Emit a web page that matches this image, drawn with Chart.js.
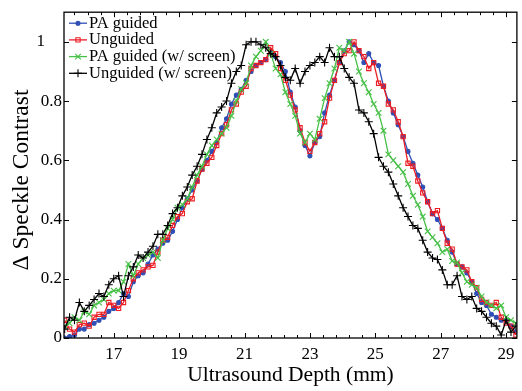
<!DOCTYPE html>
<html><head><meta charset="utf-8">
<script src="https://cdn.jsdelivr.net/npm/chart.js@4/dist/chart.umd.min.js"></script>
<style>html,body{margin:0;padding:0;background:#fff;}canvas{display:block;}</style>
</head><body>
<canvas id="c" width="522" height="391"></canvas>
<script>
// ---- data ----
const depth = [15.50,15.65,15.80,15.95,16.10,16.25,16.40,16.55,16.70,16.85,
  17.00,17.15,17.30,17.45,17.60,17.75,17.90,18.05,18.20,18.35,
  18.50,18.65,18.80,18.95,19.10,19.25,19.40,19.55,19.70,19.85,
  20.00,20.15,20.30,20.45,20.60,20.75,20.90,21.05,21.20,21.35,
  21.50,21.65,21.80,21.95,22.10,22.25,22.40,22.55,22.70,22.85,
  23.00,23.15,23.30,23.45,23.60,23.75,23.90,24.05,24.20,24.35,
  24.50,24.65,24.80,24.95,25.10,25.25,25.40,25.55,25.70,25.85,
  26.00,26.15,26.30,26.45,26.60,26.75,26.90,27.05,27.20,27.35,
  27.50,27.65,27.80,27.95,28.10,28.25,28.40,28.55,28.70,28.85,
  29.00,29.15,29.30];
const paGuided = [0.00,0.005,0.01,0.03,0.03,0.045,0.05,0.06,0.07,0.09,
  0.10,0.12,0.15,0.14,0.19,0.21,0.22,0.25,0.28,0.30,
  0.32,0.33,0.36,0.40,0.44,0.47,0.50,0.53,0.57,0.60,
  0.63,0.66,0.71,0.74,0.79,0.82,0.84,0.87,0.90,0.92,
  0.93,0.94,0.97,0.95,0.93,0.90,0.83,0.78,0.70,0.65,
  0.615,0.66,0.68,0.76,0.82,0.87,0.93,0.97,1.00,0.99,
  0.97,0.93,0.96,0.93,0.92,0.85,0.80,0.76,0.72,0.68,
  0.63,0.59,0.55,0.51,0.46,0.42,0.40,0.37,0.33,0.29,
  0.25,0.24,0.22,0.19,0.15,0.12,0.11,0.08,0.07,0.06,
  0.06,0.04,0.02];
const unguided = [0.06,0.03,0.02,0.045,0.05,0.04,0.07,0.08,0.08,0.12,
  0.11,0.10,0.12,0.16,0.20,0.22,0.23,0.24,0.245,0.29,
  0.33,0.34,0.38,0.41,0.42,0.46,0.47,0.53,0.57,0.59,
  0.61,0.65,0.69,0.72,0.77,0.79,0.83,0.85,0.91,0.92,
  0.93,0.94,0.98,0.96,0.91,0.87,0.82,0.77,0.71,0.66,
  0.63,0.66,0.69,0.73,0.81,0.87,0.93,0.96,0.97,1.00,
  0.97,0.95,0.91,0.93,0.86,0.85,0.79,0.77,0.73,0.68,
  0.59,0.58,0.53,0.49,0.46,0.42,0.43,0.37,0.32,0.30,
  0.25,0.24,0.23,0.19,0.17,0.13,0.12,0.11,0.12,0.07,
  0.05,0.04,0.01];
const paGuidedScreen = [0.04,0.05,0.07,0.06,0.09,0.08,0.11,0.12,0.13,0.15,
  0.16,0.16,0.19,0.25,0.21,0.25,0.27,0.28,0.29,0.27,
  0.33,0.37,0.40,0.44,0.45,0.47,0.51,0.55,0.58,0.62,
  0.65,0.67,0.69,0.71,0.75,0.80,0.84,0.86,0.92,0.95,
  0.97,1.00,0.96,0.91,0.89,0.83,0.79,0.75,0.69,0.66,
  0.69,0.67,0.74,0.81,0.86,0.91,0.98,0.97,1.00,0.96,
  0.90,0.86,0.83,0.79,0.76,0.70,0.62,0.60,0.58,0.56,
  0.52,0.48,0.45,0.41,0.36,0.34,0.32,0.29,0.30,0.26,
  0.255,0.22,0.19,0.18,0.17,0.14,0.12,0.11,0.10,0.11,
  0.07,0.06,0.05];
const unguidedScreen = [0.03,0.07,0.06,0.12,0.09,0.11,0.13,0.15,0.14,0.18,
  0.20,0.21,0.14,0.21,0.24,0.28,0.27,0.29,0.31,0.35,
  0.35,0.38,0.42,0.44,0.48,0.51,0.55,0.58,0.62,0.67,
  0.71,0.76,0.78,0.80,0.86,0.90,0.92,0.99,1.00,1.00,
  0.99,0.98,0.96,0.95,0.92,0.88,0.87,0.91,0.86,0.90,
  0.92,0.93,0.95,0.93,0.98,0.95,0.95,0.91,0.88,0.86,
  0.77,0.76,0.73,0.69,0.61,0.58,0.56,0.52,0.48,0.44,
  0.41,0.38,0.37,0.33,0.29,0.27,0.265,0.23,0.18,0.18,
  0.21,0.14,0.13,0.14,0.10,0.09,0.07,0.05,0.04,0.01,
  0.06,0.02,0.04];
const seriesNames = ['PA guided','Unguided','PA guided (w/ screen)','Unguided (w/ screen)'];
const xTickValues = [17,19,21,23,25,27,29];
const yTickValues = [0,0.2,0.4,0.6,0.8,1];
const xTitle = 'Ultrasound Depth (mm)';
const yTitle = '\u0394 Speckle Contrast';

// ---- styling ----
const SERIF = "'Liberation Serif','Times New Roman',serif";
const XMIN = 15.48, XMAX = 29.33, YMIN = 0, YMAX = 1.1;
const styles = [
  {color:'#2f4fb5', pointStyle:'circle', radius:2, fill:'#2f4fb5', order:3},
  {color:'#ec1c24', pointStyle:'rect', radius:3, fill:'rgba(0,0,0,0)', order:2},
  {color:'#46c046', pointStyle:'crossRot', radius:4, fill:'#46c046', order:1},
  {color:'#000000', pointStyle:'cross', radius:4, fill:'#000000', order:0}
];
const seriesValues = [paGuided, unguided, paGuidedScreen, unguidedScreen];

const datasets = seriesValues.map((vals, i) => ({
  label: seriesNames[i],
  data: depth.map((d, k) => ({x: d, y: vals[k]})),
  borderColor: styles[i].color,
  backgroundColor: styles[i].fill,
  borderWidth: 1.3,
  pointStyle: styles[i].pointStyle,
  pointRadius: styles[i].radius,
  pointBorderColor: styles[i].color,
  pointBackgroundColor: styles[i].fill,
  pointBorderWidth: 1.1,
  tension: 0,
  fill: false,
  order: styles[i].order
}));

const framePlugin = {
  id: 'frame',
  afterDatasetsDraw(chart) {
    const {ctx, chartArea: a, scales: {x, y}} = chart;
    ctx.save();
    ctx.strokeStyle = '#000';
    ctx.lineWidth = 1.3;
    ctx.strokeRect(a.left, a.top, a.right - a.left, a.bottom - a.top);
    ctx.lineWidth = 1;
    ctx.beginPath();
    for (let k = -3; k <= 31; k++) {
      const v = 17 + k * 0.4;
      if (v < XMIN || v > XMAX) continue;
      const major = k % 5 === 0;
      const len = major ? 5 : 3;
      const px = Math.round(x.getPixelForValue(v)) + 0.5;
      ctx.moveTo(px, a.bottom); ctx.lineTo(px, a.bottom - len);
      ctx.moveTo(px, a.top); ctx.lineTo(px, a.top + len);
    }
    yTickValues.forEach(v => {
      const py = Math.round(y.getPixelForValue(v)) + 0.5;
      ctx.moveTo(a.left, py); ctx.lineTo(a.left + 5, py);
      ctx.moveTo(a.right, py); ctx.lineTo(a.right - 5, py);
    });
    ctx.stroke();
    // y axis title (rotated)
    ctx.fillStyle = '#000';
    ctx.font = "23.5px " + SERIF;
    ctx.textAlign = 'center';
    ctx.textBaseline = 'middle';
    ctx.translate(22, 180);
    ctx.rotate(-Math.PI / 2);
    ctx.fillText(yTitle, 0, 0);
    ctx.restore();
  }
};

const legendPlugin = {
  id: 'matlabLegend',
  afterDraw(chart) {
    const {ctx, chartArea: a} = chart;
    ctx.save();
    ctx.font = "16.5px " + SERIF;
    ctx.textBaseline = 'middle';
    ctx.textAlign = 'left';
    seriesNames.forEach((name, i) => {
      const yy = a.top + 11 + i * 16.7;
      const x0 = a.left + 5, x1 = a.left + 23;
      ctx.strokeStyle = styles[i].color;
      ctx.lineWidth = 1.3;
      ctx.beginPath(); ctx.moveTo(x0, yy); ctx.lineTo(x1, yy); ctx.stroke();
      ctx.fillStyle = styles[i].fill;
      ctx.strokeStyle = styles[i].color;
      ctx.lineWidth = 1.1;
      Chart.helpers.drawPoint(ctx, {pointStyle: styles[i].pointStyle, radius: styles[i].radius, rotation: 0, borderWidth: 1.1}, (x0 + x1) / 2, yy);
      ctx.fillStyle = '#000';
      ctx.fillText(name, x1 + 2, yy);
    });
    ctx.restore();
  }
};

new Chart(document.getElementById('c'), {
  type: 'line',
  data: { datasets },
  options: {
    responsive: false,
    animation: false,
    devicePixelRatio: 1,
    layout: { padding: { top: 7, right: 2, left: 0, bottom: 0 } },
    plugins: { legend: { display: false }, tooltip: { enabled: false } },
    scales: {
      x: {
        type: 'linear', min: XMIN, max: XMAX,
        grid: { display: false, drawTicks: false },
        border: { display: false },
        afterBuildTicks: s => { s.ticks = xTickValues.map(v => ({value: v})); },
        afterFit: s => { s.height = 53; },
        ticks: { color: '#000', font: { family: SERIF, size: 17 }, padding: 6, maxRotation: 0,
                 callback: v => String(v) },
        title: { display: true, text: xTitle, color: '#000',
                 font: { family: SERIF, size: 21.5, lineHeight: 1 }, padding: { top: 0, bottom: 5 } }
      },
      y: {
        type: 'linear', min: YMIN, max: YMAX,
        grid: { display: false, drawTicks: false },
        border: { display: false },
        afterBuildTicks: s => { s.ticks = yTickValues.map(v => ({value: v})); },
        afterFit: s => { s.width = 64; },
        ticks: { color: '#000', font: { family: SERIF, size: 17 }, padding: 2,
                 callback: v => (v === 1 ? '1\u2002\u2002' : (Math.round(v * 10) / 10).toString()) },
        title: { display: false }
      }
    }
  },
  plugins: [framePlugin, legendPlugin]
});
</script>
</body></html>
